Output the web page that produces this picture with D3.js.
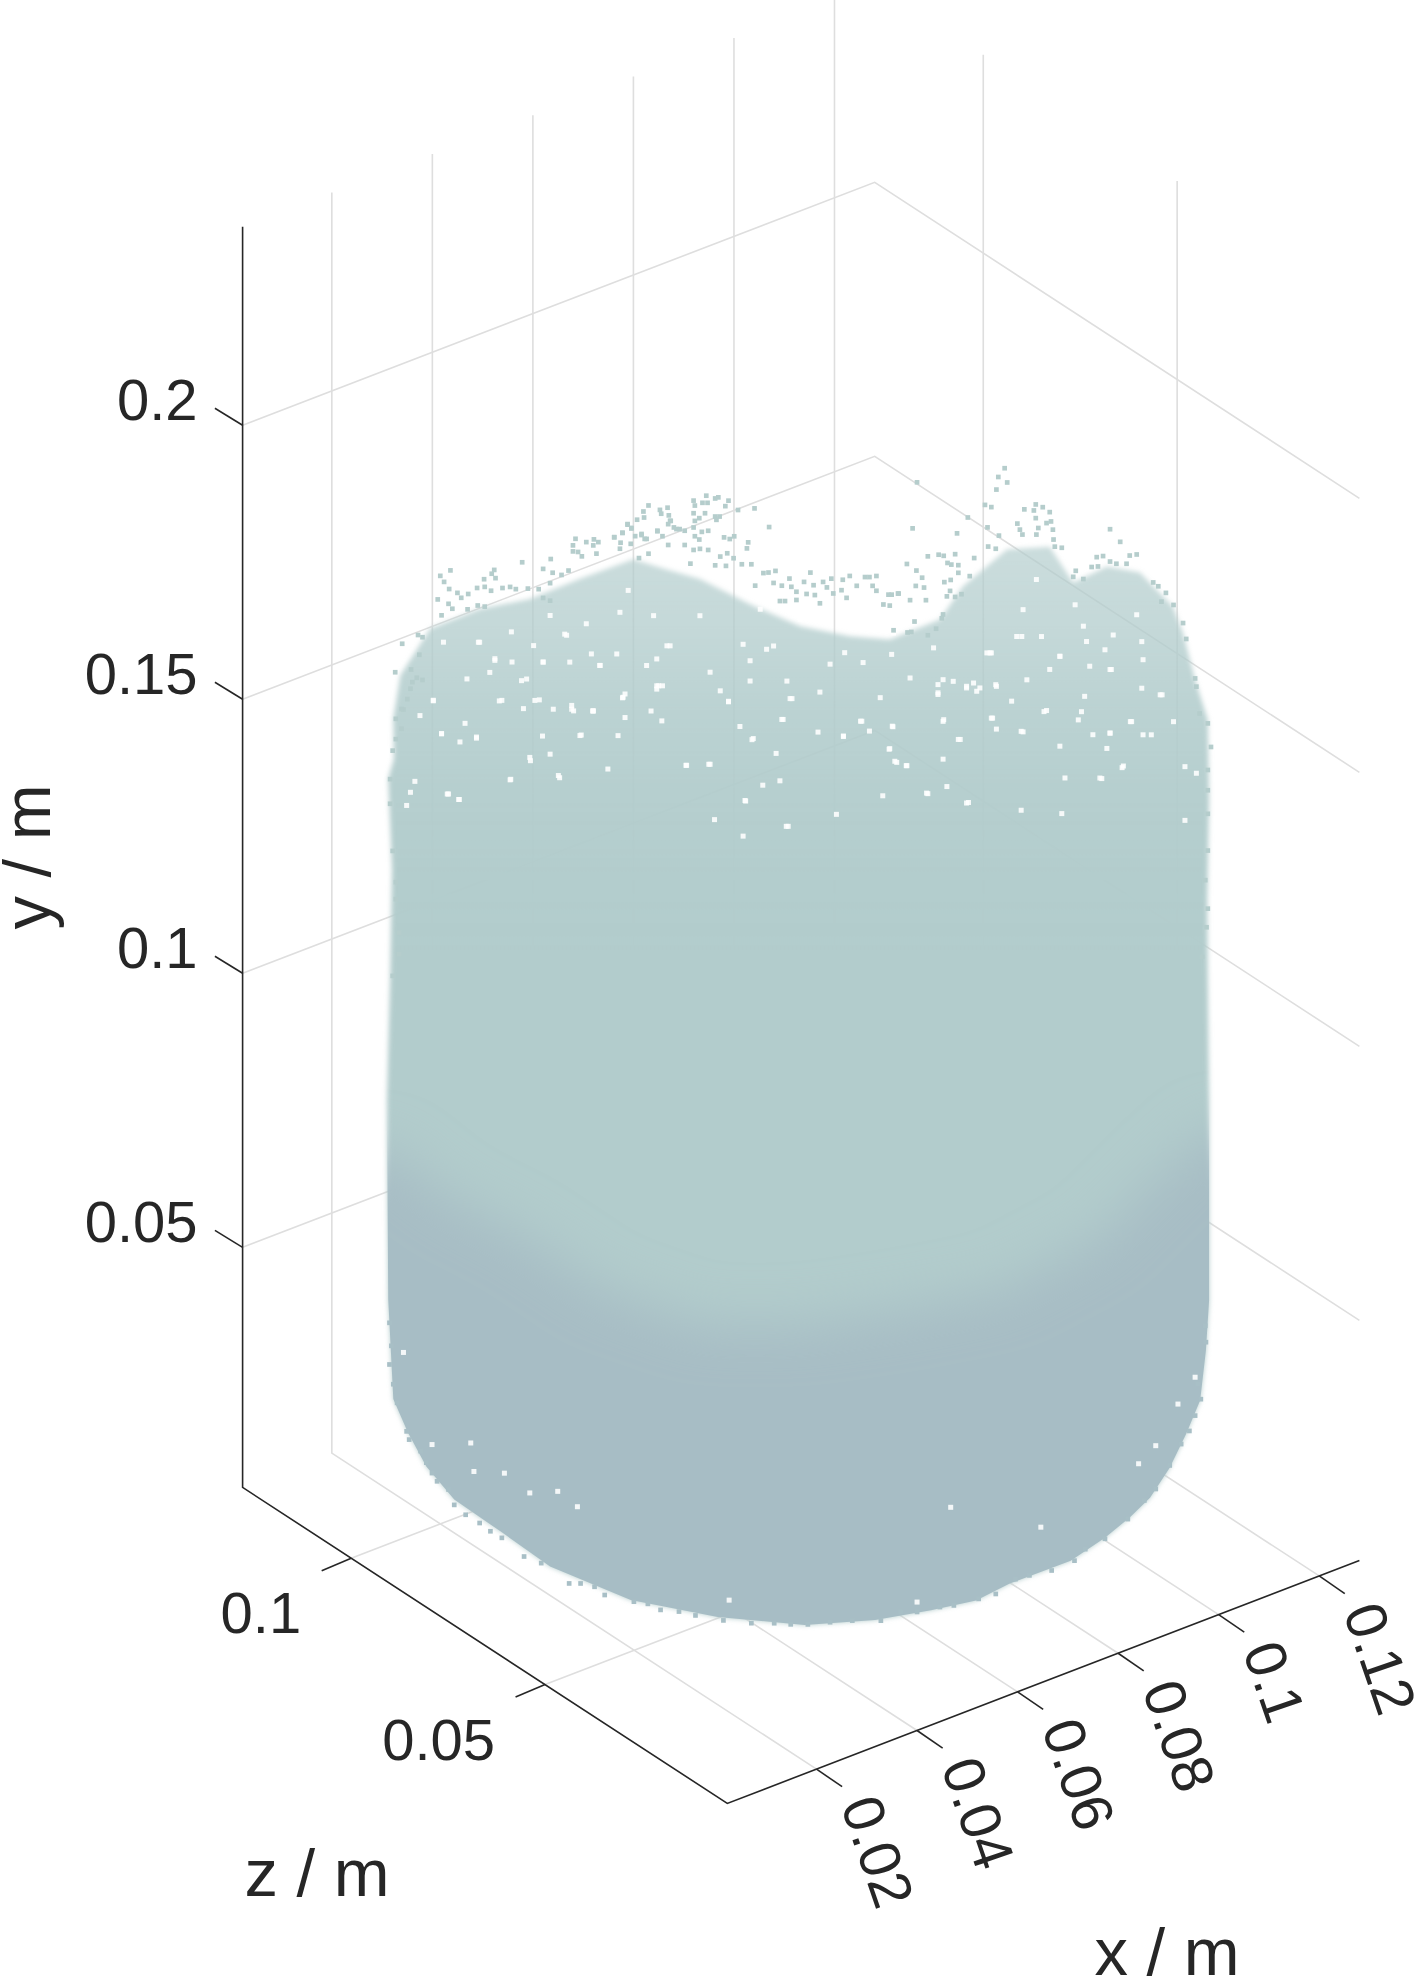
<!DOCTYPE html>
<html><head><meta charset="utf-8">
<script src="https://cdnjs.cloudflare.com/ajax/libs/d3/7.8.5/d3.min.js"></script>
<style>html,body{margin:0;padding:0;background:#fff}svg{display:block}text{font-family:"Liberation Sans",Arial,sans-serif;fill:#262626}</style>
</head><body><div id="chart"></div>
<script>
// ---- axis data (metres) ----
const xLim = [0.00225, 0.128];
const yLim = [0.0062, 0.2362];
const zLim = [0.003, 0.128];
const xTicks = [0.02, 0.04, 0.06, 0.08, 0.1, 0.12];
const yTicks = [0.05, 0.1, 0.15, 0.2];
const zTicks = [0.05, 0.1];
const xTickLabels = ["0.02", "0.04", "0.06", "0.08", "0.1", "0.12"];
const yTickLabels = ["0.05", "0.1", "0.15", "0.2"];
const zTickLabels = ["0.05", "0.1"];

// ---- cloud: millimetres across the cylinder, as seen, and height ----
// Outline of the dense body
const outlineAcross = [-63.8,-63.9,-62.8,-58.1,-50.2,-42.4,-34.5,-26.1,-21.1,-15.6,-7.7,0.2,8.0,14.3,22.2,25.8,32.8,39.5,43.2,48.5,53.7,58.9,60.5,62.4,64.4,64.6,64.3,64.4,64.6,64.6,64.1,63.2,61.0,58.4,55.3,52.1,48.2,42.8,33.2,27.9,20.8,12.0,0.9,-12.8,-26.5,-39.2,-46.8,-54.3,-58.7,-61.6,-63.9,-64.7,-64.9,-64.4,-64.1,-64.7];
const outlineHeight = [165.8,173.1,181.0,189.6,193.2,195.0,198.7,202.3,200.5,198.7,194.1,190.1,188.3,187.7,191.4,197.4,204.2,204.7,198.1,201.1,200.0,193.8,189.0,180.4,173.1,158.5,140.3,125.7,103.7,67.2,58.1,49.0,42.9,36.7,31.2,27.6,23.9,19.7,15.5,12.4,10.6,8.8,7.9,9.3,12.4,18.5,24.7,30.7,36.7,42.9,49.0,67.2,103.7,125.7,145.7,162.2];
// Upper limit of the darker lower part of the bed
const shadeAcross = [-65,-55,-44,-31,-15,0,16,32,47,58,65];
const shadeHeight = [94.6,85.5,79.1,69.0,62.6,62.6,65.4,69.0,78.2,91.0,98.3];
// Individually visible particles above and around the dense body
const looseAcross = [-54.9,-56.5,-55.9,-55.1,-56.9,-48.0,-48.4,-47.8,-49.6,-43.6,-39.1,-40.3,-38.8,-53.8,-53.2,-52.1,-50.7,-49.5,-48.5,-46.7,-45.5,-44.6,-42.7,-41.0,-39.2,-37.4,-36.3,-35.2,-35.6,-35.6,-34.8,-34.2,-33.5,-32.3,-31.6,-32.4,-31.9,-29.1,-27.8,-28.1,-27.0,-26.4,-24.8,-24.0,-22.3,-21.5,-20.2,-20.6,-19.3,-28.2,-26.5,-23.7,-25.2,-62.5,-63.6,-59.8,-61.1,-60.0,-59.3,-56.3,-55.2,-54.6,-52.2,-50.6,-49.5,-40.3,-39.2,-60.2,-59.3,-60.9,-62.3,
-14.6,-13.2,-12.7,-11.1,-11.6,-23.7,-24.5,-24.4,-25.5,-27.0,-26.4,-16.6,-16.4,-15.2,-14.4,-16.6,-14.8,-21.9,-20.7,-21.7,-20.5,-20.3,-19.7,-18.8,-18.0,-16.6,-16.4,-15.7,-13.2,-12.5,-13.0,-9.6,-7.0,-4.7,-22.3,-24.8,-25.8,-24.3,-29.1,-27.8,-14.3,-15.3,-16.4,-15.7,-11.8,-10.9,-10.2,-8.0,-8.2,-18.0,-20.6,-16.6,-15.6,-14.3,-11.3,-12.4,-10.3,-17.1,-13.2,-11.5,-9.0,-7.5,-5.6,-4.8,-3.7,-1.5,1.8,0.8,2.3,5.1,6.9,8.0,9.1,10.4,11.1,12.2,3.8,4.4,-4.0,-2.7,-1.2,-6.9,-0.4,1.2,2.5,5.4,6.7,7.5,11.6,12.2,14.1,15.6,3.3,14.3,13.3,-3.0,-2.2,-0.4,
32.4,31.4,32.8,31.1,18.6,29.3,30.3,26.6,29.7,17.9,24.9,31.5,35.5,37.3,38.4,39.5,37.0,37.3,34.4,34.8,35.2,37.7,37.4,39.0,39.7,40.0,40.1,49.0,50.6,29.8,31.0,41.4,40.3,20.3,22.0,22.8,24.6,27.6,17.0,18.5,19.4,18.4,19.7,15.7,14.6,17.5,20.0,23.4,24.0,25.1,25.1,26.9,23.9,22.9,23.8,23.3,24.6,25.6,18.2,14.9,17.1,17.7,20.3,21.6,22.7,22.5,46.9,47.9,49.0,50.0,51.6,52.1,53.2,43.6,43.2,44.8,46.1,47.1,55.8,56.6,57.8,57.1,59.0,61.0,60.5,62.4,
-61.2,-61.7,-62.6,-63.5,-62.6,-63.5,-64.0,-64.4,-64.4,-64.0,-63.5,-63.5,-63.0,-63.0,-64.0,62.6,63.1,64.4,64.9,64.4,64.4,64.4,64.4,64.0,64.4,64.2,63.5];
const looseHeight = [200.2,199.2,198.1,196.8,194.9,200.3,199.6,198.8,198.6,201.7,202.3,200.5,199.8,196.1,195.2,195.9,197.0,197.2,196.5,197.0,197.2,196.8,196.9,196.8,197.9,199.4,200.2,206.0,204.8,203.7,203.6,202.8,205.4,205.9,205.4,204.8,203.3,206.3,207.1,205.3,208.7,208.0,206.7,206.0,207.5,206.5,209.3,208.7,207.8,204.2,205.1,203.3,202.5,186.8,181.6,184.8,182.1,188.4,188.0,192.0,194.1,193.2,193.1,193.8,193.6,195.2,194.7,180.6,180.2,179.8,174.8,
213.9,213.4,213.6,213.0,212.0,212.1,211.0,209.9,209.5,208.6,207.9,213.0,212.1,212.6,212.6,210.7,210.7,211.3,211.7,210.6,210.3,209.3,208.1,207.8,207.5,208.1,209.3,209.8,210.1,210.1,209.5,211.3,211.6,208.2,207.4,206.9,206.5,206.0,206.3,207.1,207.5,207.3,206.5,205.9,206.3,206.0,206.5,205.4,204.3,204.9,204.9,204.0,204.2,204.0,203.4,202.8,202.5,201.5,201.2,201.1,201.4,201.4,199.8,199.9,200.2,198.8,199.9,198.2,197.6,198.8,198.6,199.3,197.5,199.1,199.1,199.3,198.2,197.2,198.0,197.5,197.3,197.5,196.4,196.0,195.8,196.1,196.7,195.3,197.5,196.6,195.9,196.1,194.3,193.9,194.1,194.7,194.7,194.9,
219.0,217.4,216.4,215.1,216.4,212.3,211.9,210.0,208.2,208.0,207.1,206.7,211.5,212.4,211.9,211.0,211.3,209.9,208.9,207.8,206.9,208.1,206.9,209.0,209.3,207.8,206.0,207.9,205.6,204.7,204.3,204.5,204.7,202.9,203.2,203.0,203.3,202.6,201.5,200.3,199.0,197.5,197.2,196.1,195.9,194.9,194.9,201.7,201.4,201.3,199.9,199.3,198.6,198.2,196.6,195.6,195.5,196.0,191.0,189.4,189.0,189.1,188.5,189.7,192.3,191.6,202.8,203.0,202.0,201.6,201.6,203.1,203.3,200.3,199.2,198.8,201.0,201.1,198.2,197.5,196.3,194.7,194.1,187.9,190.8,180.7,
178.6,176.7,174.9,173.1,171.3,169.4,167.3,162.1,157.6,149.0,143.3,140.2,134.1,130.2,126.2,179.2,174.3,172.5,168.2,164.0,160.3,156.0,149.3,143.9,138.7,135.3,129.9];
// Particles along the lower rim
const rimAcross = [-54.3,-52.5,-50.3,-48.6,-46.8,-43.3,-40.6,-36.2,-34.4,-32.2,-30.6,-26.0,-23.8,-21.8,-18.9,-16.3,-11.9,-7.5,-3.9,-1.3,1.4,4.9,8.4,12.9,16.0,18.6,22.2,24.4,28.3,31.0,34.1,36.3,39.8,43.4,45.1,48.2,51.8,54.4,56.2,58.4,60.2,61.5,62.4,63.3,62.8,64.1,64.0,-58.7,-57.8,-57.0,-55.2,-59.6,-61.4,-61.8,-63.3,-63.9,-64.5,-64.2,-64.5];
const rimHeight = [29.7,27.9,26.4,24.9,23.7,20.3,19.1,15.4,15.4,14.8,13.3,12.1,11.7,10.6,10.3,9.6,8.7,8.2,8.2,8.0,8.0,8.4,8.7,8.7,10.3,10.3,11.2,11.5,12.7,13.6,16.3,17.0,17.9,19.7,21.8,23.7,27.3,30.7,32.8,37.1,41.0,43.4,46.2,49.2,52.0,59.6,62.6,37.4,35.5,34.0,32.5,39.5,41.6,43.1,48.3,51.7,55.3,58.7,62.9];
// Visible clearings between particles inside the body
const gapAcross = [-47.9,-50.3,-45.3,-42.9,-40.3,-35.8,-32.4,-31.4,-27.4,-22.4,-22.4,-26.9,-39.2,-36.6,-33.5,-43.4,35.3,34.3,41.1,49.0,53.2,45.3,30.1,43.5,37.4,54.2,45.8,-22.9,-28.2,-15.6,-6.1,0.2,8.0,-4.0,14.9,-20.3,
-21.5,-11.1,-1.1,-27.8,-32.5,-57.6,-40.9,9.7,-2.5,22.8,35.0,38.6,52.2,49.0,-56.3,-50.8,-34.3,-42.3,-37.7,-30.1,-45.4,-14.2,-17.8,16.9,15.1,14.2,50.9,47.7,23.3,20.1,-53.6,-61.2,-55.4,41.4,35.0,26.4,-8.4,-8.8,-2.0,-13.3,60.8,21.9,21.9,31.0,44.5,46.3,30.5,14.7,11.1,7.0,-7.4,-23.3,-35.5,-40.4,-47.2,57.2,26.4,-22.4,59.0,
-51.7,-51.2,-46.4,-38.0,-42.4,-34.9,23.9,38.1,53.5,56.2,-11.0,18.6,-57.8,-62.3,59.7,62.4,
-31.3,-22.1,-34.5,-50.8,-56.3,-32.4,-41.6,-20.8,-28.7,-32.7,-40.3,-36.1,-43.7,-47.9,-50.5,-56.0,-57.6,-53.4,-52.6,-46.8,-38.7,-35.8,-24.0,-27.7,-42.4,-37.9,-55.2,-60.5,-61.8,-53.5,-45.5,-39.2,-28.5,-21.6,-17.7,-27.4,-45.2,-41.8,-36.9,-48.7,-52.3,-59.7,
-8.8,-5.1,-7.7,21.2,22.7,21.9,17.5,10.1,4.9,7.2,-1.4,-2.7,-11.1,9.9,14.8,22.7,17.0,15.4,14.3,7.0,3.0,-9.3,-14.0,-7.2,-3.6,20.3,13.2,-5.7,-3.0,-8.5,5.9,26.7,-1.7,22.7,25.1,31.1,28.5,26.4,12.8,3.3,-12.4,-14.0,-7.7,-1.9,14.6,29.6,
49.2,41.1,30.3,35.1,38.2,44.8,49.5,54.0,48.2,35.9,27.5,24.3,28.0,33.5,39.0,52.4,54.0,45.0,56.9,35.3,30.3,49.0,44.0,51.1,47.4,41.1,60.8,54.2,55.5,62.6,48.5,39.5,31.1,25.4,41.9];
const gapHeight = [184.1,187.1,189.0,180.4,183.5,175.6,174.6,182.9,177.7,179.2,184.1,196.6,192.0,188.4,190.5,175.0,193.2,188.3,184.7,182.3,192.3,187.4,185.3,194.1,198.7,184.1,182.9,192.0,192.6,192.0,193.2,191.4,190.2,186.5,188.9,186.5,
179.2,176.3,176.9,177.0,174.6,176.4,176.6,172.8,173.1,173.1,171.0,174.6,172.8,170.7,170.4,169.6,170.2,165.5,162.4,164.0,162.1,164.9,164.7,164.7,165.5,167.7,164.4,162.4,160.9,159.7,158.4,159.7,159.4,156.0,156.6,157.9,158.2,151.8,153.6,154.8,154.8,178.0,179.5,179.5,174.6,170.4,173.4,171.9,171.0,170.0,169.4,174.6,174.6,170.0,176.4,177.7,179.2,178.6,172.8,
41.0,35.8,35.5,32.2,31.9,29.4,29.4,25.8,37.4,40.7,12.4,12.1,40.7,57.5,48.3,53.2,
182.9,179.2,170.1,169.8,170.4,174.6,176.5,186.5,185.0,185.0,183.5,183.5,180.1,183.8,187.1,187.1,176.5,168.9,172.3,176.5,174.9,174.9,182.9,177.1,166.1,162.8,159.4,161.7,157.3,158.4,162.0,166.7,170.1,172.8,164.7,173.4,183.5,186.5,188.6,181.6,180.4,173.7,
186.8,185.9,183.8,186.2,180.4,177.7,180.7,183.5,183.2,185.3,176.9,173.1,176.4,172.8,171.8,172.8,164.7,165.3,167.8,170.1,170.8,171.8,164.9,169.6,166.9,159.6,159.2,161.1,161.9,158.3,155.8,158.0,153.6,165.9,169.5,171.4,178.9,178.9,177.1,178.1,178.3,181.7,180.1,180.1,185.0,185.3,
182.3,184.7,185.3,188.3,188.3,190.2,188.6,187.4,185.9,180.4,179.8,180.1,178.3,176.5,174.8,172.8,178.9,177.4,177.7,170.9,173.4,170.7,173.1,164.7,162.5,168.3,164.6,170.4,170.4,163.4,167.9,182.3,179.2,169.5,162.5];
// Body density with height: height in mm, share of the surface covered
const coverHeight = [205, 190, 175, 160, 145, 130];
const coverShare = [0.68, 0.76, 0.88, 0.95, 0.985, 1];

// ---- layout ----
const W = 1416, H = 1976;
const corner = {ax: 242.6, ay: 1487.4, bx: 727.3, by: 1803.4, cx: 1359.4, cy: 1560.5, height: 1260.6};
const sx = d3.scaleLinear().domain(xLim).range([0, 1]);
const sy = d3.scaleLinear().domain(yLim).range([0, 1]);
const sz = d3.scaleLinear().domain(zLim).range([0, 1]);
function project(x, y, z) {
  const tx = sx(x), ty = sy(y), tz = sz(z);
  return [
    corner.bx + tx * (corner.cx - corner.bx) + tz * (corner.ax - corner.bx),
    corner.by + tx * (corner.cy - corner.by) + tz * (corner.ay - corner.by) - ty * corner.height
  ];
}
// cloud plane: a vertical plane facing the viewer
const planeX = 0.0437, planeZ = 0.03825;
const cloudPoint = (acrossMm, heightMm) => project(planeX + acrossMm * 0.7927e-3, heightMm * 1e-3, planeZ - acrossMm * 0.6096e-3);

const svg = d3.select("#chart").append("svg").attr("width", W).attr("height", H).attr("viewBox", `0 0 ${W} ${H}`);
const defs = svg.append("defs");
const line = d3.line();
const [x0, x1] = xLim, [y0, y1] = yLim, [z0, z1] = zLim;

// ---- grid ----
svg.append("g").selectAll("path").data(
  xTicks.map(v => [project(v, y0, z0), project(v, y0, z1), project(v, y1, z1)])
  .concat(zTicks.map(v => [project(x0, y0, v), project(x1, y0, v), project(x1, y1, v)]))
  .concat(yTicks.map(v => [project(x0, v, z1), project(x1, v, z1), project(x1, v, z0)]))
).join("path").attr("d", line).attr("fill", "none").attr("stroke", "#dedede").attr("stroke-width", 1.6);

// ---- cloud ----
const outlinePath = line(outlineAcross.map((u, i) => cloudPoint(u, outlineHeight[i]))) + "Z";
defs.append("clipPath").attr("id", "bodyClip").append("path").attr("d", outlinePath);
const yAt = h => cloudPoint(0, h)[1];
const cover = defs.append("linearGradient").attr("id", "cover").attr("gradientUnits", "userSpaceOnUse")
  .attr("x1", 0).attr("x2", 0).attr("y1", yAt(coverHeight[0])).attr("y2", yAt(coverHeight[coverHeight.length - 1]));
coverHeight.forEach((h, i) => cover.append("stop")
  .attr("offset", (coverHeight[0] - h) / (coverHeight[0] - coverHeight[coverHeight.length - 1]))
  .attr("stop-color", "#b2cccc").attr("stop-opacity", coverShare[i]));
defs.append("filter").attr("id", "edge").attr("x", "-5%").attr("y", "-5%").attr("width", "110%").attr("height", "110%")
  .append("feGaussianBlur").attr("stdDeviation", 2.6);
defs.append("filter").attr("id", "soft").attr("x", "-20%").attr("y", "-40%").attr("width", "140%").attr("height", "180%")
  .append("feGaussianBlur").attr("stdDeviation", 26);

svg.append("path").attr("d", outlinePath).attr("fill", "url(#cover)").attr("filter", "url(#edge)");

const shadeTop = shadeAcross.map((u, i) => cloudPoint(u, shadeHeight[i]));
const shadeBottom = [cloudPoint(100, -40), cloudPoint(-100, -40)];
svg.append("g").attr("clip-path", "url(#bodyClip)")
  .append("path").attr("d", line([[cloudPoint(-100, shadeHeight[0])[0], shadeTop[0][1]], ...shadeTop, [cloudPoint(100, shadeHeight[10])[0], shadeTop[10][1]], ...shadeBottom]) + "Z")
  .attr("fill", "#a7bdc5").attr("filter", "url(#soft)");

svg.append("g").selectAll("rect").data(gapAcross.map((u, i) => cloudPoint(u, gapHeight[i])))
  .join("rect").attr("x", d => d[0] - 2.5).attr("y", d => d[1] - 2.5).attr("width", 5).attr("height", 5).attr("fill", "#fff").attr("opacity", .88);

const square = d3.symbol().type(d3.symbolSquare).size(22)();
const g = svg.append("g");
g.selectAll(".loose").data(looseAcross.map((u, i) => cloudPoint(u, looseHeight[i])))
  .enter().append("path").attr("d", square).attr("transform", d => `translate(${d[0]},${d[1]})`).attr("fill", "#b5cdcc");
g.selectAll(".rim").data(rimAcross.map((u, i) => cloudPoint(u, rimHeight[i])))
  .enter().append("path").attr("d", square).attr("transform", d => `translate(${d[0]},${d[1]})`).attr("fill", "#a8bfc6");

// ---- axes ----
const ax = svg.append("g").attr("stroke", "#262626").attr("stroke-width", 1.6).attr("fill", "none");
ax.append("path").attr("d", line([project(x0, y1, z1), project(x0, y0, z1), project(x0, y0, z0), project(x1, y0, z0)]));
ax.selectAll(".ty").data(yTicks).enter().append("path").attr("d", v => { const p = project(x0, v, z1); return line([p, [p[0] - 27.7, p[1] - 17]]); });
ax.selectAll(".tz").data(zTicks).enter().append("path").attr("d", v => { const p = project(x0, y0, v); return line([p, [p[0] - 29.5, p[1] + 12.5]]); });
ax.selectAll(".tx").data(xTicks).enter().append("path").attr("d", v => { const p = project(v, y0, z0); return line([p, [p[0] + 25.6, p[1] + 17.6]]); });

const fs = 58;
svg.append("g").selectAll("text").data(yTicks).join("text")
  .attr("x", v => project(x0, v, z1)[0] - 45).attr("y", v => project(x0, v, z1)[1] - 5)
  .attr("text-anchor", "end").attr("font-size", fs).text((v, i) => yTickLabels[i]);
svg.append("g").selectAll("text").data(zTicks).join("text")
  .attr("x", v => project(x0, y0, v)[0] - 50).attr("y", v => project(x0, y0, v)[1] + 75)
  .attr("text-anchor", "end").attr("font-size", fs).text((v, i) => zTickLabels[i]);
svg.append("g").selectAll("text").data(xTicks).join("text")
  .attr("transform", v => { const p = project(v, y0, z0); return `translate(${p[0] + 43},${p[1] + 29}) rotate(71)`; })
  .attr("dominant-baseline", "central").attr("font-size", fs).text((v, i) => xTickLabels[i]);

const afs = 67;
svg.append("text").attr("transform", "translate(50,857) rotate(-90)").attr("text-anchor", "middle").attr("font-size", afs).text("y / m");
svg.append("text").attr("x", 317).attr("y", 1896).attr("text-anchor", "middle").attr("font-size", afs).text("z / m");
svg.append("text").attr("x", 1167).attr("y", 1975).attr("text-anchor", "middle").attr("font-size", afs).text("x / m");
</script></body></html>
